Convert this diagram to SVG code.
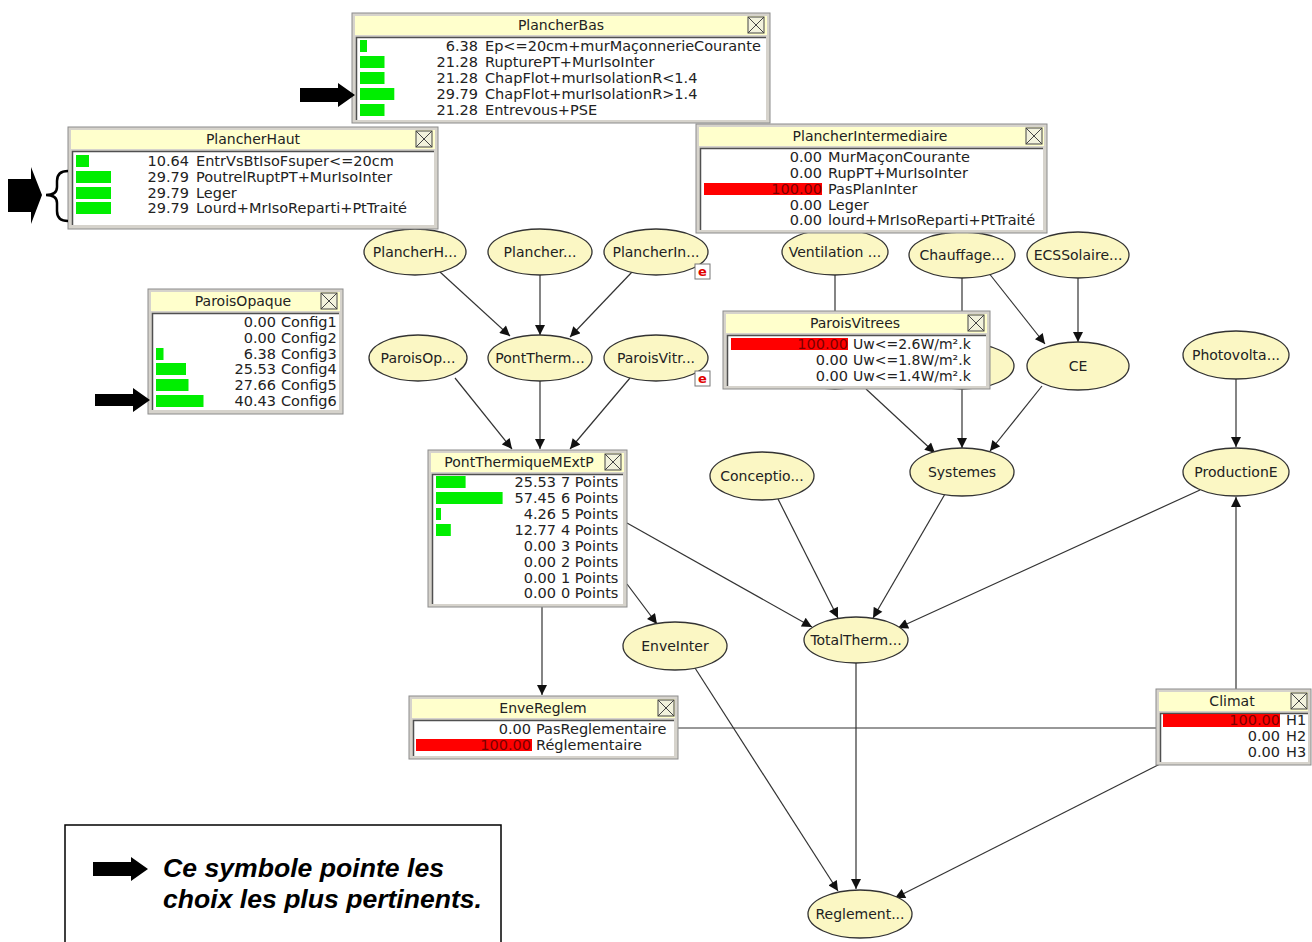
<svg xmlns="http://www.w3.org/2000/svg" width="1312" height="942" viewBox="0 0 1312 942">
<style>
.frame{fill:#d6d3cc;stroke:#8c8c8c;stroke-width:1}
.tbar{fill:#ffffcc}
.body{fill:#ffffff}
.inset{fill:none;stroke:#505050;stroke-width:1.5}
.ttl{font-family:"DejaVu Sans",sans-serif;font-size:14px;fill:#222;text-anchor:middle}
.num{font-family:"DejaVu Sans",sans-serif;font-size:14.5px;fill:#222;text-anchor:end}
.numr{font-family:"DejaVu Sans",sans-serif;font-size:14.5px;fill:#7a0000;text-anchor:end}
.lab{font-family:"DejaVu Sans",sans-serif;font-size:14.5px;fill:#222}
.g{fill:#00ee00}
.r{fill:#ff0000}
.cls{fill:#f2f2dc;stroke:#444;stroke-width:1}
.clx{stroke:#444;stroke-width:1}
.node ellipse{fill:#fbf7c4;stroke:#333;stroke-width:1.3}
.ntx{font-family:"DejaVu Sans",sans-serif;font-size:14px;fill:#222;text-anchor:middle}
.edge{stroke:#333;stroke-width:1.2;fill:none}
.badge{fill:#fff;stroke:#777;stroke-width:1}
.btx{font-family:"DejaVu Sans",sans-serif;font-size:13px;font-weight:bold;fill:#e00000;text-anchor:middle}
.big{fill:#000}
.leg{font-family:"Liberation Sans",Arial,sans-serif;font-size:25px;font-weight:bold;font-style:italic;fill:#000}
</style>
<defs>
<marker id="ah" viewBox="0 0 10 10" refX="10" refY="5" markerWidth="11" markerHeight="10" markerUnits="userSpaceOnUse" orient="auto">
<path d="M0,0 L10,5 L0,10 z" fill="#111"/>
</marker>
</defs>
<rect width="1312" height="942" fill="#ffffff"/>

<g id="connectors">
<line class="edge" x1="440" y1="272" x2="510" y2="336" marker-end="url(#ah)"/>
<line class="edge" x1="540" y1="275" x2="540" y2="335" marker-end="url(#ah)"/>
<line class="edge" x1="632" y1="272" x2="570" y2="337" marker-end="url(#ah)"/>
<line class="edge" x1="455" y1="378" x2="512" y2="449" marker-end="url(#ah)"/>
<line class="edge" x1="540" y1="381" x2="540" y2="449" marker-end="url(#ah)"/>
<line class="edge" x1="630" y1="378" x2="570" y2="449" marker-end="url(#ah)"/>
<line class="edge" x1="627" y1="523" x2="812" y2="627" marker-end="url(#ah)"/>
<line class="edge" x1="627" y1="584" x2="657" y2="624" marker-end="url(#ah)"/>
<line class="edge" x1="542" y1="607" x2="542" y2="695" marker-end="url(#ah)"/>
<line class="edge" x1="778" y1="499" x2="838" y2="618" marker-end="url(#ah)"/>
<line class="edge" x1="945" y1="494" x2="873" y2="618" marker-end="url(#ah)"/>
<line class="edge" x1="1200" y1="490" x2="898" y2="628" marker-end="url(#ah)"/>
<line class="edge" x1="1236" y1="379" x2="1236" y2="447" marker-end="url(#ah)"/>
<line class="edge" x1="1236" y1="689" x2="1236" y2="497" marker-end="url(#ah)"/>
<line class="edge" x1="678" y1="728" x2="1156" y2="728"/>
<line class="edge" x1="1160" y1="764" x2="895" y2="898" marker-end="url(#ah)"/>
<line class="edge" x1="856" y1="663" x2="856" y2="889" marker-end="url(#ah)"/>
<line class="edge" x1="695" y1="668" x2="838" y2="891" marker-end="url(#ah)"/>
<line class="edge" x1="835" y1="275" x2="835" y2="343"/>
<line class="edge" x1="962" y1="278" x2="962" y2="343"/>
<line class="edge" x1="988" y1="272" x2="1045" y2="344" marker-end="url(#ah)"/>
<line class="edge" x1="1078" y1="278" x2="1078" y2="342" marker-end="url(#ah)"/>
<line class="edge" x1="866" y1="389" x2="935" y2="453" marker-end="url(#ah)"/>
<line class="edge" x1="962" y1="389" x2="962" y2="448" marker-end="url(#ah)"/>
<line class="edge" x1="1042" y1="386" x2="990" y2="451" marker-end="url(#ah)"/>
</g>

<g id="n-PlancherH" class="node"><ellipse cx="415" cy="252" rx="51" ry="23"/><text class="ntx" x="415" y="257">PlancherH...</text></g>
<g id="n-Plancher" class="node"><ellipse cx="540" cy="252" rx="52" ry="23"/><text class="ntx" x="540" y="257">Plancher...</text></g>
<g id="n-PlancherIn" class="node"><ellipse cx="656" cy="252" rx="52" ry="23"/><text class="ntx" x="656" y="257">PlancherIn...</text><rect class="badge" x="695" y="264" width="15" height="15"/><text class="btx" x="702.5" y="276">e</text></g>
<g id="n-ParoisOp" class="node"><ellipse cx="418" cy="358" rx="49" ry="23"/><text class="ntx" x="418" y="363">ParoisOp...</text></g>
<g id="n-PontTherm" class="node"><ellipse cx="540" cy="358" rx="52" ry="23"/><text class="ntx" x="540" y="363">PontTherm...</text></g>
<g id="n-ParoisVitr" class="node"><ellipse cx="656" cy="358" rx="52" ry="23"/><text class="ntx" x="656" y="363">ParoisVitr...</text><rect class="badge" x="695" y="371" width="15" height="15"/><text class="btx" x="702.5" y="383">e</text></g>
<g id="n-Ventilation" class="node"><ellipse cx="835" cy="252" rx="53" ry="23"/><text class="ntx" x="835" y="257">Ventilation ...</text></g>
<g id="n-Chauffage" class="node"><ellipse cx="962" cy="255" rx="53" ry="23"/><text class="ntx" x="962" y="260">Chauffage...</text></g>
<g id="n-ECSSolaire" class="node"><ellipse cx="1078" cy="255" rx="51" ry="23"/><text class="ntx" x="1078" y="260">ECSSolaire...</text></g>
<g id="n-hiddenV" class="node"><ellipse cx="835" cy="366" rx="52" ry="23"/></g>
<g id="n-hiddenC" class="node"><ellipse cx="962" cy="366" rx="52" ry="23"/></g>
<g id="n-CE" class="node"><ellipse cx="1078" cy="366" rx="51" ry="24"/><text class="ntx" x="1078" y="371">CE</text></g>
<g id="n-Photovolta" class="node"><ellipse cx="1236" cy="355" rx="53" ry="24"/><text class="ntx" x="1236" y="360">Photovolta...</text></g>
<g id="n-Conceptio" class="node"><ellipse cx="762" cy="476" rx="52" ry="24"/><text class="ntx" x="762" y="481">Conceptio...</text></g>
<g id="n-Systemes" class="node"><ellipse cx="962" cy="472" rx="52" ry="24"/><text class="ntx" x="962" y="477">Systemes</text></g>
<g id="n-ProductionE" class="node"><ellipse cx="1236" cy="472" rx="53" ry="24"/><text class="ntx" x="1236" y="477">ProductionE</text></g>
<g id="n-EnveInter" class="node"><ellipse cx="675" cy="646" rx="52" ry="24"/><text class="ntx" x="675" y="651">EnveInter</text></g>
<g id="n-TotalTherm" class="node"><ellipse cx="856" cy="640" rx="52" ry="23"/><text class="ntx" x="856" y="645">TotalTherm...</text></g>
<g id="n-Reglement" class="node"><ellipse cx="860" cy="914" rx="52" ry="24"/><text class="ntx" x="860" y="919">Reglement...</text></g>

<g id="box-PlancherBas">
<rect class="frame" x="352" y="13" width="418" height="110"/>
<rect class="tbar" x="355" y="16" width="412" height="19"/>
<text class="ttl" x="561" y="30">PlancherBas</text>
<rect class="cls" x="748" y="17" width="16" height="16"/><path class="clx" d="M748,17 L764,33 M764,17 L748,33"/>
<rect class="body" x="356" y="37" width="410" height="83"/>
<path class="inset" d="M356.5,120 V37.5 H766"/>
<rect class="g" x="360" y="40" width="7" height="12"/>
<rect class="g" x="360" y="56" width="24.5" height="12"/>
<rect class="g" x="360" y="72" width="24.5" height="12"/>
<rect class="g" x="360" y="88" width="34.3" height="12"/>
<rect class="g" x="360" y="104" width="24.5" height="12"/>
<text class="num" x="478" y="51">6.38</text><text class="lab" x="485" y="51">Ep&lt;=20cm+murMaçonnerieCourante</text>
<text class="num" x="478" y="67">21.28</text><text class="lab" x="485" y="67">RupturePT+MurIsoInter</text>
<text class="num" x="478" y="83">21.28</text><text class="lab" x="485" y="83">ChapFlot+murIsolationR&lt;1.4</text>
<text class="num" x="478" y="99">29.79</text><text class="lab" x="485" y="99">ChapFlot+murIsolationR&gt;1.4</text>
<text class="num" x="478" y="115">21.28</text><text class="lab" x="485" y="115">Entrevous+PSE</text>
</g>

<g id="box-PlancherHaut">
<rect class="frame" x="68" y="127" width="370" height="102"/>
<rect class="tbar" x="71" y="130" width="364" height="19"/>
<text class="ttl" x="253" y="144">PlancherHaut</text>
<rect class="cls" x="416" y="131" width="16" height="16"/><path class="clx" d="M416,131 L432,147 M432,131 L416,147"/>
<rect class="body" x="72" y="151" width="362" height="74"/>
<path class="inset" d="M72.5,225 V151.5 H434"/>
<rect class="g" x="76" y="155" width="13" height="12"/>
<rect class="g" x="76" y="171" width="35" height="12"/>
<rect class="g" x="76" y="187" width="35" height="12"/>
<rect class="g" x="76" y="202" width="35" height="12"/>
<text class="num" x="189" y="166">10.64</text><text class="lab" x="196" y="166">EntrVsBtIsoFsuper&lt;=20cm</text>
<text class="num" x="189" y="182">29.79</text><text class="lab" x="196" y="182">PoutrelRuptPT+MurIsoInter</text>
<text class="num" x="189" y="198">29.79</text><text class="lab" x="196" y="198">Leger</text>
<text class="num" x="189" y="213">29.79</text><text class="lab" x="196" y="213">Lourd+MrIsoReparti+PtTraité</text>
</g>

<g id="box-PlancherIntermediaire">
<rect class="frame" x="696" y="124" width="351" height="109"/>
<rect class="tbar" x="699" y="127" width="345" height="19"/>
<text class="ttl" x="870" y="141">PlancherIntermediaire</text>
<rect class="cls" x="1026" y="128" width="16" height="16"/><path class="clx" d="M1026,128 L1042,144 M1042,128 L1026,144"/>
<rect class="body" x="700" y="148" width="343" height="82"/>
<path class="inset" d="M700.5,230 V148.5 H1043"/>
<rect class="r" x="704" y="183" width="118" height="12"/>
<text class="num" x="822" y="162">0.00</text><text class="lab" x="828" y="162">MurMaçonCourante</text>
<text class="num" x="822" y="178">0.00</text><text class="lab" x="828" y="178">RupPT+MurIsoInter</text>
<text class="numr" x="822" y="194">100.00</text><text class="lab" x="828" y="194">PasPlanInter</text>
<text class="num" x="822" y="210">0.00</text><text class="lab" x="828" y="210">Leger</text>
<text class="num" x="822" y="225">0.00</text><text class="lab" x="828" y="225">lourd+MrIsoReparti+PtTraité</text>
</g>

<g id="box-ParoisOpaque">
<rect class="frame" x="148" y="289" width="195" height="125"/>
<rect class="tbar" x="151" y="292" width="189" height="19"/>
<text class="ttl" x="243" y="306">ParoisOpaque</text>
<rect class="cls" x="321" y="293" width="16" height="16"/><path class="clx" d="M321,293 L337,309 M337,293 L321,309"/>
<rect class="body" x="152" y="313" width="187" height="97"/>
<path class="inset" d="M152.5,410 V313.5 H339"/>
<rect class="g" x="156" y="348" width="7.5" height="12"/>
<rect class="g" x="156" y="363" width="30" height="12"/>
<rect class="g" x="156" y="379" width="32.5" height="12"/>
<rect class="g" x="156" y="395" width="47.5" height="12"/>
<text class="num" x="276" y="327">0.00</text><text class="lab" x="281" y="327">Config1</text>
<text class="num" x="276" y="343">0.00</text><text class="lab" x="281" y="343">Config2</text>
<text class="num" x="276" y="359">6.38</text><text class="lab" x="281" y="359">Config3</text>
<text class="num" x="276" y="374">25.53</text><text class="lab" x="281" y="374">Config4</text>
<text class="num" x="276" y="390">27.66</text><text class="lab" x="281" y="390">Config5</text>
<text class="num" x="276" y="406">40.43</text><text class="lab" x="281" y="406">Config6</text>
</g>

<g id="box-ParoisVitrees">
<rect class="frame" x="723" y="311" width="267" height="78"/>
<rect class="tbar" x="726" y="314" width="261" height="19"/>
<text class="ttl" x="855" y="328">ParoisVitrees</text>
<rect class="cls" x="968" y="315" width="16" height="16"/><path class="clx" d="M968,315 L984,331 M984,315 L968,331"/>
<rect class="body" x="727" y="335" width="259" height="51"/>
<path class="inset" d="M727.5,386 V335.5 H986"/>
<rect class="r" x="731" y="338" width="117" height="12"/>
<text class="numr" x="848" y="349">100.00</text><text class="lab" x="853" y="349" style="font-size:14px">Uw&lt;=2.6W/m².k</text>
<text class="num" x="848" y="365">0.00</text><text class="lab" x="853" y="365" style="font-size:14px">Uw&lt;=1.8W/m².k</text>
<text class="num" x="848" y="381">0.00</text><text class="lab" x="853" y="381" style="font-size:14px">Uw&lt;=1.4W/m².k</text>
</g>

<g id="box-PontThermiqueMExtP">
<rect class="frame" x="428" y="450" width="199" height="157"/>
<rect class="tbar" x="431" y="453" width="193" height="19"/>
<text class="ttl" x="519" y="467">PontThermiqueMExtP</text>
<rect class="cls" x="605" y="454" width="16" height="16"/><path class="clx" d="M605,454 L621,470 M621,454 L605,470"/>
<rect class="body" x="432" y="474" width="191" height="130"/>
<path class="inset" d="M432.5,604 V474.5 H623"/>
<rect class="g" x="436" y="476" width="29.6" height="12"/>
<rect class="g" x="436" y="492" width="66.6" height="12"/>
<rect class="g" x="436" y="508" width="5" height="12"/>
<rect class="g" x="436" y="524" width="14.8" height="12"/>
<text class="num" x="556" y="487">25.53</text><text class="lab" x="561" y="487">7 Points</text>
<text class="num" x="556" y="503">57.45</text><text class="lab" x="561" y="503">6 Points</text>
<text class="num" x="556" y="519">4.26</text><text class="lab" x="561" y="519">5 Points</text>
<text class="num" x="556" y="535">12.77</text><text class="lab" x="561" y="535">4 Points</text>
<text class="num" x="556" y="551">0.00</text><text class="lab" x="561" y="551">3 Points</text>
<text class="num" x="556" y="567">0.00</text><text class="lab" x="561" y="567">2 Points</text>
<text class="num" x="556" y="583">0.00</text><text class="lab" x="561" y="583">1 Points</text>
<text class="num" x="556" y="598">0.00</text><text class="lab" x="561" y="598">0 Points</text>
</g>

<g id="box-EnveReglem">
<rect class="frame" x="409" y="696" width="269" height="63"/>
<rect class="tbar" x="412" y="699" width="263" height="19"/>
<text class="ttl" x="543" y="713">EnveReglem</text>
<rect class="cls" x="658" y="700" width="16" height="16"/><path class="clx" d="M658,700 L674,716 M674,700 L658,716"/>
<rect class="body" x="413" y="720" width="261" height="36"/>
<path class="inset" d="M413.5,756 V720.5 H674"/>
<rect class="r" x="416" y="739" width="116" height="12"/>
<text class="num" x="531" y="734">0.00</text><text class="lab" x="536" y="734">PasReglementaire</text>
<text class="numr" x="531" y="750">100.00</text><text class="lab" x="536" y="750">Réglementaire</text>
</g>

<g id="box-Climat">
<rect class="frame" x="1156" y="689" width="155" height="76"/>
<rect class="tbar" x="1159" y="692" width="149" height="19"/>
<text class="ttl" x="1232" y="706">Climat</text>
<rect class="cls" x="1291" y="693" width="16" height="16"/><path class="clx" d="M1291,693 L1307,709 M1307,693 L1291,709"/>
<rect class="body" x="1160" y="713" width="148" height="49"/>
<path class="inset" d="M1160.5,762 V713.5 H1308"/>
<rect class="r" x="1163" y="714" width="117" height="13"/>
<text class="numr" x="1280" y="725">100.00</text><text class="lab" x="1286" y="725">H1</text>
<text class="num" x="1280" y="741">0.00</text><text class="lab" x="1286" y="741">H2</text>
<text class="num" x="1280" y="757">0.00</text><text class="lab" x="1286" y="757">H3</text>
</g>

<g id="pointers">
<path class="big" d="M300,88 H338 V83 L355,95 L338,107 V102 H300 Z"/>
<path class="big" d="M95,394 H133 V388 L150,400 L133,412 V406 H95 Z"/>
<path class="big" d="M8,179 H31 V167 L42,195 L31,224 V212 H8 Z"/>
<path d="M68,171 Q57,171 57,181 V187 Q57,195 46,195 Q57,195 57,203 V211 Q57,221 68,221" fill="none" stroke="#000" stroke-width="2.5"/>
</g>

<g id="legend">
<rect x="65" y="825" width="436" height="130" fill="#fff" stroke="#000" stroke-width="1.5"/>
<path class="big" d="M93,862 H131 V857 L148,869 L131,881 V876 H93 Z"/>
<text class="leg" x="163" y="877" textLength="281" lengthAdjust="spacingAndGlyphs">Ce symbole pointe les</text>
<text class="leg" x="163" y="908" textLength="319" lengthAdjust="spacingAndGlyphs">choix les plus pertinents.</text>
</g>
</svg>
